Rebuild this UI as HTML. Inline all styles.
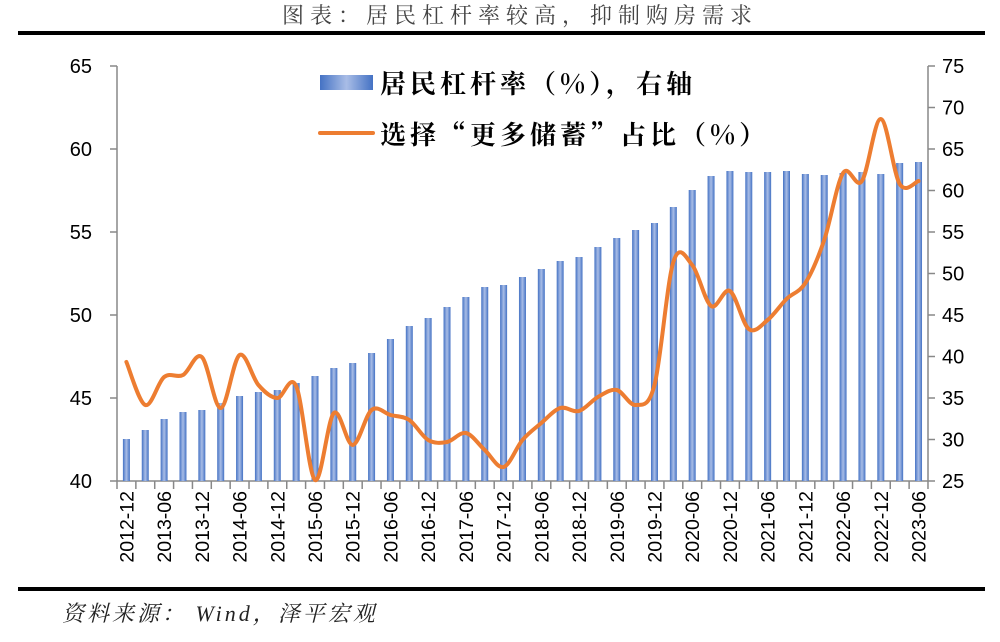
<!DOCTYPE html>
<html><head><meta charset="utf-8"><style>
html,body{margin:0;padding:0;background:#fff;}
svg{display:block;}
</style></head><body>
<svg id="s" width="1000" height="642" xmlns="http://www.w3.org/2000/svg" font-family="Liberation Sans, Noto Sans CJK SC, sans-serif">
<text x="520" y="23" text-anchor="middle" font-family="Noto Serif CJK SC, serif" font-size="22" fill="#444" letter-spacing="6">图表：居民杠杆率较高，抑制购房需求</text>
<rect x="18" y="31" width="967" height="4" fill="#000"/>
<rect x="18" y="587" width="967" height="4" fill="#000"/>
<text x="62" y="621" font-family="Liberation Serif, Noto Serif CJK SC, serif" font-style="italic" font-size="22" fill="#222" letter-spacing="3">资料来源：  Wind，泽平宏观</text>
<g id="g"></g>
<defs><linearGradient id="bg" x1="0" x2="1" y1="0" y2="0"><stop offset="0" stop-color="#4472c4"/><stop offset="0.5" stop-color="#a9bde6"/><stop offset="1" stop-color="#4472c4"/></linearGradient></defs>
<rect x="320" y="75" width="53" height="15" fill="url(#bg)"/>
<text x="380" y="93" font-family="Noto Serif CJK SC, serif" font-weight="bold" font-size="26" fill="#000" letter-spacing="4">居民杠杆率（%），右轴</text>
<line x1="320" y1="133" x2="373" y2="133" stroke="#ed7d31" stroke-width="4" stroke-linecap="round"/>
<text x="380" y="144" font-family="Noto Serif CJK SC, serif" font-weight="bold" font-size="26" fill="#000" letter-spacing="4">选择“更多储蓄”占比（%）</text>
</svg>
<script>
var g=document.getElementById('g'),h='';
var bars=[439,430,419,412,410,403,396,392,390,383,376,368,363,353,339,326,318,307,297,287,285,277,269,261,257,247,238,230,223,207,190,176,171,172,172,171,174,175,173,172,174,163,162];
var ln=[362,405,377,375,357,408,355,385,398,386,480,413,445,410,415,420,440,442,433,450,467,440,423,408,411,397,390,405,385,262,265,306,291,329,320,299,283,240,173,181,119,184,181];
var dx=18.86,x0=126.4;
h+='<line x1="117" y1="66" x2="117" y2="481" stroke="#888" stroke-width="1.5"/>';
h+='<line x1="928" y1="66" x2="928" y2="481" stroke="#888" stroke-width="1.5"/>';
h+='<line x1="117" y1="481" x2="928" y2="481" stroke="#888" stroke-width="1.5"/>';
var L=[65,60,55,50,45,40];
for(var i=0;i<6;i++){var y=66+i*83;h+='<line x1="110" y1="'+y+'" x2="117" y2="'+y+'" stroke="#888" stroke-width="1.5"/><text x="92" y="'+(y+7)+'" text-anchor="end" font-size="20" fill="#000">'+L[i]+'</text>';}
for(var i=0;i<11;i++){var y=66+i*41.5;h+='<line x1="928" y1="'+y+'" x2="935" y2="'+y+'" stroke="#888" stroke-width="1.5"/><text x="942" y="'+(y+7)+'" font-size="20" fill="#000">'+(75-5*i)+'</text>';}
for(var i=0;i<=43;i++){var x=117+i*dx;h+='<line x1="'+x+'" y1="481" x2="'+x+'" y2="489" stroke="#888" stroke-width="1.5"/>';}
for(var i=0;i<43;i++){var x=x0+i*dx;h+='<rect x="'+(x-3.5)+'" y="'+bars[i]+'" width="7" height="'+(481-bars[i])+'" fill="url(#bg)"/>';}
var lab=['2012-12','2013-06','2013-12','2014-06','2014-12','2015-06','2015-12','2016-06','2016-12','2017-06','2017-12','2018-06','2018-12','2019-06','2019-12','2020-06','2020-12','2021-06','2021-12','2022-06','2022-12','2023-06'];
for(var i=0;i<lab.length;i++){var x=x0+2*i*dx+7;h+='<text transform="translate('+x+',491) rotate(-90)" text-anchor="end" font-size="19.5" fill="#000">'+lab[i]+'</text>';}
var P=ln.map(function(v,i){return [x0+i*dx,v];});
var d='M'+P[0][0]+','+P[0][1];
for(var i=0;i<P.length-1;i++){var p0=P[Math.max(0,i-1)],p1=P[i],p2=P[i+1],p3=P[Math.min(P.length-1,i+2)];var t=6;
d+=' C'+(p1[0]+(p2[0]-p0[0])/t)+','+(p1[1]+(p2[1]-p0[1])/t)+' '+(p2[0]-(p3[0]-p1[0])/t)+','+(p2[1]-(p3[1]-p1[1])/t)+' '+p2[0]+','+p2[1];}
h+='<path d="'+d+'" fill="none" stroke="#ed7d31" stroke-width="4" stroke-linejoin="round" stroke-linecap="round"/>';
g.innerHTML=h;
</script>
</body></html>
